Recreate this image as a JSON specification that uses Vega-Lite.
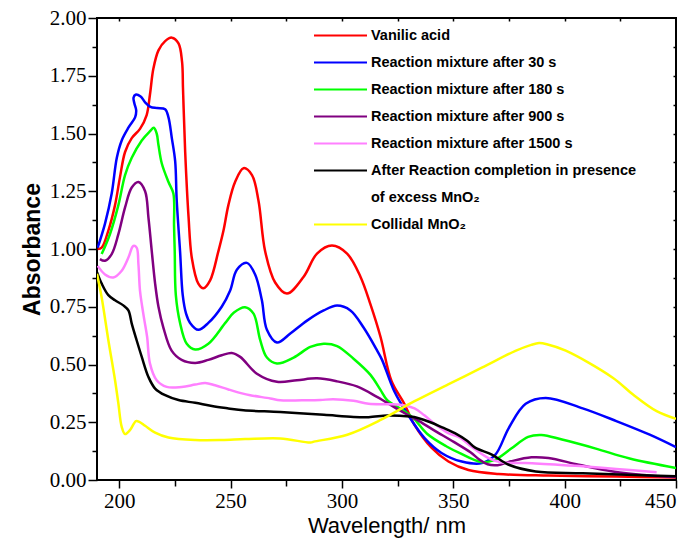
{
"$schema":"https://vega.github.io/schema/vega-lite/v6.json",
"width":579,"height":462,
"autosize":{"type":"none"},
"padding":{"left":97,"top":18,"right":16,"bottom":69},
"background":"white",
"config":{"view":{"stroke":"black","strokeWidth":2},
"axis":{"domain":false,"grid":false,"tickColor":"black","tickWidth":1.5,"labelColor":"black","titleColor":"black","labelOverlap":false,"labelFont":"Liberation Serif, DejaVu Serif, serif"}},
"data":{"values":[
{"series":"Vanilic acid","wl":190.3,"abs":1.0},{"series":"Vanilic acid","wl":192.1,"abs":1.006},{"series":"Vanilic acid","wl":195.1,"abs":1.08},{"series":"Vanilic acid","wl":198.1,"abs":1.19},{"series":"Vanilic acid","wl":200.3,"abs":1.31},{"series":"Vanilic acid","wl":202.6,"abs":1.42},{"series":"Vanilic acid","wl":205.6,"abs":1.48},{"series":"Vanilic acid","wl":209.3,"abs":1.52},{"series":"Vanilic acid","wl":212.3,"abs":1.58},{"series":"Vanilic acid","wl":213.8,"abs":1.67},{"series":"Vanilic acid","wl":215.3,"abs":1.78},{"series":"Vanilic acid","wl":217.6,"abs":1.86},{"series":"Vanilic acid","wl":220.6,"abs":1.9},{"series":"Vanilic acid","wl":223.6,"abs":1.915},{"series":"Vanilic acid","wl":226.6,"abs":1.89},{"series":"Vanilic acid","wl":228.2,"abs":1.81},{"series":"Vanilic acid","wl":228.6,"abs":1.7},{"series":"Vanilic acid","wl":228.9,"abs":1.61},{"series":"Vanilic acid","wl":229.6,"abs":1.42},{"series":"Vanilic acid","wl":231.1,"abs":1.14},{"series":"Vanilic acid","wl":232.6,"abs":0.96},{"series":"Vanilic acid","wl":235.5,"abs":0.85},{"series":"Vanilic acid","wl":237.8,"abs":0.83},{"series":"Vanilic acid","wl":240.8,"abs":0.864},{"series":"Vanilic acid","wl":244.5,"abs":0.99},{"series":"Vanilic acid","wl":246.8,"abs":1.08},{"series":"Vanilic acid","wl":249,"abs":1.19},{"series":"Vanilic acid","wl":252,"abs":1.29},{"series":"Vanilic acid","wl":255.8,"abs":1.35},{"series":"Vanilic acid","wl":259.6,"abs":1.32},{"series":"Vanilic acid","wl":262.5,"abs":1.21},{"series":"Vanilic acid","wl":265.5,"abs":0.99},{"series":"Vanilic acid","wl":270,"abs":0.855},{"series":"Vanilic acid","wl":275.3,"abs":0.807},{"series":"Vanilic acid","wl":282.8,"abs":0.88},{"series":"Vanilic acid","wl":288.8,"abs":0.98},{"series":"Vanilic acid","wl":295.5,"abs":1.015},{"series":"Vanilic acid","wl":302.3,"abs":0.98},{"series":"Vanilic acid","wl":308.3,"abs":0.88},{"series":"Vanilic acid","wl":312.8,"abs":0.76},{"series":"Vanilic acid","wl":317.3,"abs":0.62},{"series":"Vanilic acid","wl":322.2,"abs":0.43},{"series":"Vanilic acid","wl":328,"abs":0.33},{"series":"Vanilic acid","wl":332.5,"abs":0.24},{"series":"Vanilic acid","wl":340.2,"abs":0.14},{"series":"Vanilic acid","wl":347.8,"abs":0.08},{"series":"Vanilic acid","wl":356.8,"abs":0.043},{"series":"Vanilic acid","wl":370.3,"abs":0.026},{"series":"Vanilic acid","wl":392.8,"abs":0.019},{"series":"Vanilic acid","wl":423.4,"abs":0.015},{"series":"Vanilic acid","wl":450,"abs":0.011},
{"series":"Reaction mixture after 30 s","wl":190.3,"abs":1.006},{"series":"Reaction mixture after 30 s","wl":193.6,"abs":1.11},{"series":"Reaction mixture after 30 s","wl":196.6,"abs":1.24},{"series":"Reaction mixture after 30 s","wl":198.9,"abs":1.395},{"series":"Reaction mixture after 30 s","wl":201.1,"abs":1.47},{"series":"Reaction mixture after 30 s","wl":204.1,"abs":1.525},{"series":"Reaction mixture after 30 s","wl":207.1,"abs":1.57},{"series":"Reaction mixture after 30 s","wl":207.6,"abs":1.6},{"series":"Reaction mixture after 30 s","wl":206.8,"abs":1.63},{"series":"Reaction mixture after 30 s","wl":206.4,"abs":1.655},{"series":"Reaction mixture after 30 s","wl":207.3,"abs":1.668},{"series":"Reaction mixture after 30 s","wl":209.6,"abs":1.66},{"series":"Reaction mixture after 30 s","wl":211.6,"abs":1.635},{"series":"Reaction mixture after 30 s","wl":214,"abs":1.615},{"series":"Reaction mixture after 30 s","wl":217,"abs":1.61},{"series":"Reaction mixture after 30 s","wl":220.6,"abs":1.605},{"series":"Reaction mixture after 30 s","wl":222.1,"abs":1.57},{"series":"Reaction mixture after 30 s","wl":223.6,"abs":1.48},{"series":"Reaction mixture after 30 s","wl":225.1,"abs":1.38},{"series":"Reaction mixture after 30 s","wl":225.8,"abs":1.21},{"series":"Reaction mixture after 30 s","wl":227.3,"abs":0.99},{"series":"Reaction mixture after 30 s","wl":228.5,"abs":0.8},{"series":"Reaction mixture after 30 s","wl":230,"abs":0.72},{"series":"Reaction mixture after 30 s","wl":231.8,"abs":0.68},{"series":"Reaction mixture after 30 s","wl":235.5,"abs":0.65},{"series":"Reaction mixture after 30 s","wl":240,"abs":0.68},{"series":"Reaction mixture after 30 s","wl":246,"abs":0.75},{"series":"Reaction mixture after 30 s","wl":249.8,"abs":0.82},{"series":"Reaction mixture after 30 s","wl":252.8,"abs":0.91},{"series":"Reaction mixture after 30 s","wl":257.3,"abs":0.94},{"series":"Reaction mixture after 30 s","wl":261,"abs":0.89},{"series":"Reaction mixture after 30 s","wl":264,"abs":0.78},{"series":"Reaction mixture after 30 s","wl":266.3,"abs":0.65},{"series":"Reaction mixture after 30 s","wl":270.8,"abs":0.595},{"series":"Reaction mixture after 30 s","wl":276.8,"abs":0.634},{"series":"Reaction mixture after 30 s","wl":284.3,"abs":0.69},{"series":"Reaction mixture after 30 s","wl":291.8,"abs":0.734},{"series":"Reaction mixture after 30 s","wl":297.8,"abs":0.755},{"series":"Reaction mixture after 30 s","wl":303.8,"abs":0.734},{"series":"Reaction mixture after 30 s","wl":309.7,"abs":0.66},{"series":"Reaction mixture after 30 s","wl":315.8,"abs":0.56},{"series":"Reaction mixture after 30 s","wl":318,"abs":0.52},{"series":"Reaction mixture after 30 s","wl":323.5,"abs":0.384},{"series":"Reaction mixture after 30 s","wl":329.6,"abs":0.283},{"series":"Reaction mixture after 30 s","wl":337.2,"abs":0.18},{"series":"Reaction mixture after 30 s","wl":344.7,"abs":0.117},{"series":"Reaction mixture after 30 s","wl":353.8,"abs":0.08},{"series":"Reaction mixture after 30 s","wl":362.8,"abs":0.073},{"series":"Reaction mixture after 30 s","wl":368.9,"abs":0.11},{"series":"Reaction mixture after 30 s","wl":374.9,"abs":0.225},{"series":"Reaction mixture after 30 s","wl":382.5,"abs":0.33},{"series":"Reaction mixture after 30 s","wl":391.5,"abs":0.355},{"series":"Reaction mixture after 30 s","wl":408.1,"abs":0.31},{"series":"Reaction mixture after 30 s","wl":423.2,"abs":0.255},{"series":"Reaction mixture after 30 s","wl":438.2,"abs":0.196},{"series":"Reaction mixture after 30 s","wl":450,"abs":0.142},
{"series":"Reaction mixture after 180 s","wl":192.1,"abs":0.978},{"series":"Reaction mixture after 180 s","wl":195.8,"abs":1.064},{"series":"Reaction mixture after 180 s","wl":199.6,"abs":1.19},{"series":"Reaction mixture after 180 s","wl":202.6,"abs":1.32},{"series":"Reaction mixture after 180 s","wl":205.6,"abs":1.395},{"series":"Reaction mixture after 180 s","wl":210.1,"abs":1.47},{"series":"Reaction mixture after 180 s","wl":213.8,"abs":1.51},{"series":"Reaction mixture after 180 s","wl":215.5,"abs":1.525},{"series":"Reaction mixture after 180 s","wl":216.8,"abs":1.5},{"series":"Reaction mixture after 180 s","wl":217.6,"abs":1.45},{"series":"Reaction mixture after 180 s","wl":219.1,"abs":1.37},{"series":"Reaction mixture after 180 s","wl":222.1,"abs":1.29},{"series":"Reaction mixture after 180 s","wl":224.3,"abs":1.24},{"series":"Reaction mixture after 180 s","wl":224.6,"abs":1.1},{"series":"Reaction mixture after 180 s","wl":224.9,"abs":0.99},{"series":"Reaction mixture after 180 s","wl":225.4,"abs":0.8},{"series":"Reaction mixture after 180 s","wl":227.3,"abs":0.68},{"series":"Reaction mixture after 180 s","wl":230.3,"abs":0.59},{"series":"Reaction mixture after 180 s","wl":234.1,"abs":0.565},{"series":"Reaction mixture after 180 s","wl":240,"abs":0.59},{"series":"Reaction mixture after 180 s","wl":247.6,"abs":0.68},{"series":"Reaction mixture after 180 s","wl":251.5,"abs":0.725},{"series":"Reaction mixture after 180 s","wl":256.5,"abs":0.748},{"series":"Reaction mixture after 180 s","wl":260.3,"abs":0.72},{"series":"Reaction mixture after 180 s","wl":263.3,"abs":0.605},{"series":"Reaction mixture after 180 s","wl":266.3,"abs":0.53},{"series":"Reaction mixture after 180 s","wl":270.8,"abs":0.504},{"series":"Reaction mixture after 180 s","wl":278.3,"abs":0.53},{"series":"Reaction mixture after 180 s","wl":285.8,"abs":0.576},{"series":"Reaction mixture after 180 s","wl":291.8,"abs":0.59},{"series":"Reaction mixture after 180 s","wl":297.8,"abs":0.58},{"series":"Reaction mixture after 180 s","wl":305.2,"abs":0.525},{"series":"Reaction mixture after 180 s","wl":312.8,"abs":0.455},{"series":"Reaction mixture after 180 s","wl":317.3,"abs":0.39},{"series":"Reaction mixture after 180 s","wl":320.3,"abs":0.346},{"series":"Reaction mixture after 180 s","wl":327.7,"abs":0.3},{"series":"Reaction mixture after 180 s","wl":332.2,"abs":0.267},{"series":"Reaction mixture after 180 s","wl":338.2,"abs":0.2},{"series":"Reaction mixture after 180 s","wl":347.2,"abs":0.144},{"series":"Reaction mixture after 180 s","wl":353.2,"abs":0.115},{"series":"Reaction mixture after 180 s","wl":362.4,"abs":0.078},{"series":"Reaction mixture after 180 s","wl":368.4,"abs":0.086},{"series":"Reaction mixture after 180 s","wl":376,"abs":0.136},{"series":"Reaction mixture after 180 s","wl":383.6,"abs":0.187},{"series":"Reaction mixture after 180 s","wl":389.6,"abs":0.195},{"series":"Reaction mixture after 180 s","wl":398.8,"abs":0.175},{"series":"Reaction mixture after 180 s","wl":414,"abs":0.136},{"series":"Reaction mixture after 180 s","wl":429.2,"abs":0.093},{"series":"Reaction mixture after 180 s","wl":450,"abs":0.052},
{"series":"Reaction mixture after 900 s","wl":191.3,"abs":0.956},{"series":"Reaction mixture after 900 s","wl":193.6,"abs":0.949},{"series":"Reaction mixture after 900 s","wl":196.6,"abs":0.978},{"series":"Reaction mixture after 900 s","wl":199.6,"abs":1.064},{"series":"Reaction mixture after 900 s","wl":202.6,"abs":1.18},{"series":"Reaction mixture after 900 s","wl":205.6,"abs":1.266},{"series":"Reaction mixture after 900 s","wl":208.6,"abs":1.29},{"series":"Reaction mixture after 900 s","wl":211.6,"abs":1.25},{"series":"Reaction mixture after 900 s","wl":213.1,"abs":1.136},{"series":"Reaction mixture after 900 s","wl":214.6,"abs":0.99},{"series":"Reaction mixture after 900 s","wl":216.1,"abs":0.85},{"series":"Reaction mixture after 900 s","wl":217.6,"abs":0.75},{"series":"Reaction mixture after 900 s","wl":219.8,"abs":0.66},{"series":"Reaction mixture after 900 s","wl":223.5,"abs":0.56},{"series":"Reaction mixture after 900 s","wl":228,"abs":0.52},{"series":"Reaction mixture after 900 s","wl":234.1,"abs":0.507},{"series":"Reaction mixture after 900 s","wl":240,"abs":0.52},{"series":"Reaction mixture after 900 s","wl":246,"abs":0.54},{"series":"Reaction mixture after 900 s","wl":250.5,"abs":0.55},{"series":"Reaction mixture after 900 s","wl":254.3,"abs":0.533},{"series":"Reaction mixture after 900 s","wl":261.8,"abs":0.46},{"series":"Reaction mixture after 900 s","wl":270.8,"abs":0.425},{"series":"Reaction mixture after 900 s","wl":279.8,"abs":0.432},{"series":"Reaction mixture after 900 s","wl":288.8,"abs":0.44},{"series":"Reaction mixture after 900 s","wl":297.8,"abs":0.427},{"series":"Reaction mixture after 900 s","wl":306.7,"abs":0.405},{"series":"Reaction mixture after 900 s","wl":315.7,"abs":0.36},{"series":"Reaction mixture after 900 s","wl":326.2,"abs":0.3},{"series":"Reaction mixture after 900 s","wl":333.7,"abs":0.26},{"series":"Reaction mixture after 900 s","wl":341.2,"abs":0.216},{"series":"Reaction mixture after 900 s","wl":350.2,"abs":0.165},{"series":"Reaction mixture after 900 s","wl":357.7,"abs":0.12},{"series":"Reaction mixture after 900 s","wl":361.5,"abs":0.09},{"series":"Reaction mixture after 900 s","wl":365.4,"abs":0.068},{"series":"Reaction mixture after 900 s","wl":369.9,"abs":0.064},{"series":"Reaction mixture after 900 s","wl":376,"abs":0.081},{"series":"Reaction mixture after 900 s","wl":385.1,"abs":0.098},{"series":"Reaction mixture after 900 s","wl":392.7,"abs":0.095},{"series":"Reaction mixture after 900 s","wl":406.3,"abs":0.066},{"series":"Reaction mixture after 900 s","wl":421.6,"abs":0.037},{"series":"Reaction mixture after 900 s","wl":438.2,"abs":0.02},{"series":"Reaction mixture after 900 s","wl":450,"abs":0.013},
{"series":"Reaction mixture after 1500 s","wl":190.3,"abs":0.927},{"series":"Reaction mixture after 1500 s","wl":193.6,"abs":0.89},{"series":"Reaction mixture after 1500 s","wl":197.3,"abs":0.877},{"series":"Reaction mixture after 1500 s","wl":201.1,"abs":0.906},{"series":"Reaction mixture after 1500 s","wl":204.1,"abs":0.963},{"series":"Reaction mixture after 1500 s","wl":206.3,"abs":1.013},{"series":"Reaction mixture after 1500 s","wl":207.8,"abs":1.006},{"series":"Reaction mixture after 1500 s","wl":208.6,"abs":0.934},{"series":"Reaction mixture after 1500 s","wl":209.3,"abs":0.82},{"series":"Reaction mixture after 1500 s","wl":210.3,"abs":0.75},{"series":"Reaction mixture after 1500 s","wl":211.3,"abs":0.69},{"series":"Reaction mixture after 1500 s","wl":212.5,"abs":0.62},{"series":"Reaction mixture after 1500 s","wl":213.8,"abs":0.504},{"series":"Reaction mixture after 1500 s","wl":216.8,"abs":0.432},{"series":"Reaction mixture after 1500 s","wl":221.3,"abs":0.403},{"series":"Reaction mixture after 1500 s","wl":228,"abs":0.403},{"series":"Reaction mixture after 1500 s","wl":234.1,"abs":0.413},{"series":"Reaction mixture after 1500 s","wl":238.6,"abs":0.42},{"series":"Reaction mixture after 1500 s","wl":243,"abs":0.41},{"series":"Reaction mixture after 1500 s","wl":249,"abs":0.392},{"series":"Reaction mixture after 1500 s","wl":255.1,"abs":0.375},{"series":"Reaction mixture after 1500 s","wl":258.8,"abs":0.367},{"series":"Reaction mixture after 1500 s","wl":267.8,"abs":0.353},{"series":"Reaction mixture after 1500 s","wl":272.3,"abs":0.345},{"series":"Reaction mixture after 1500 s","wl":282,"abs":0.345},{"series":"Reaction mixture after 1500 s","wl":290.3,"abs":0.346},{"series":"Reaction mixture after 1500 s","wl":296,"abs":0.35},{"series":"Reaction mixture after 1500 s","wl":305.2,"abs":0.343},{"series":"Reaction mixture after 1500 s","wl":312,"abs":0.33},{"series":"Reaction mixture after 1500 s","wl":320.3,"abs":0.328},{"series":"Reaction mixture after 1500 s","wl":327,"abs":0.325},{"series":"Reaction mixture after 1500 s","wl":332.6,"abs":0.31},{"series":"Reaction mixture after 1500 s","wl":337,"abs":0.28},{"series":"Reaction mixture after 1500 s","wl":342.7,"abs":0.235},{"series":"Reaction mixture after 1500 s","wl":347.7,"abs":0.203},{"series":"Reaction mixture after 1500 s","wl":353.2,"abs":0.182},{"series":"Reaction mixture after 1500 s","wl":357,"abs":0.153},{"series":"Reaction mixture after 1500 s","wl":365.8,"abs":0.095},{"series":"Reaction mixture after 1500 s","wl":371.9,"abs":0.076},{"series":"Reaction mixture after 1500 s","wl":385.4,"abs":0.073},{"series":"Reaction mixture after 1500 s","wl":408.1,"abs":0.059},{"series":"Reaction mixture after 1500 s","wl":423.2,"abs":0.048},{"series":"Reaction mixture after 1500 s","wl":441.3,"abs":0.034},
{"series":"After Reaction completion in presence","wl":190,"abs":0.9},{"series":"After Reaction completion in presence","wl":192.1,"abs":0.85},{"series":"After Reaction completion in presence","wl":195.1,"abs":0.8},{"series":"After Reaction completion in presence","wl":198.1,"abs":0.778},{"series":"After Reaction completion in presence","wl":201.8,"abs":0.756},{"series":"After Reaction completion in presence","wl":204.1,"abs":0.734},{"series":"After Reaction completion in presence","wl":205.6,"abs":0.677},{"series":"After Reaction completion in presence","wl":207.8,"abs":0.605},{"series":"After Reaction completion in presence","wl":210.1,"abs":0.533},{"series":"After Reaction completion in presence","wl":213.1,"abs":0.446},{"series":"After Reaction completion in presence","wl":216.1,"abs":0.396},{"series":"After Reaction completion in presence","wl":220.6,"abs":0.367},{"series":"After Reaction completion in presence","wl":226.6,"abs":0.346},{"series":"After Reaction completion in presence","wl":234.1,"abs":0.334},{"series":"After Reaction completion in presence","wl":241.6,"abs":0.32},{"series":"After Reaction completion in presence","wl":249,"abs":0.31},{"series":"After Reaction completion in presence","wl":255.8,"abs":0.302},{"series":"After Reaction completion in presence","wl":272.3,"abs":0.294},{"series":"After Reaction completion in presence","wl":291.9,"abs":0.282},{"series":"After Reaction completion in presence","wl":305.2,"abs":0.273},{"series":"After Reaction completion in presence","wl":312,"abs":0.272},{"series":"After Reaction completion in presence","wl":320.3,"abs":0.279},{"series":"After Reaction completion in presence","wl":326,"abs":0.278},{"series":"After Reaction completion in presence","wl":332.4,"abs":0.273},{"series":"After Reaction completion in presence","wl":339.7,"abs":0.25},{"series":"After Reaction completion in presence","wl":345,"abs":0.228},{"series":"After Reaction completion in presence","wl":350.7,"abs":0.203},{"series":"After Reaction completion in presence","wl":356.2,"abs":0.17},{"series":"After Reaction completion in presence","wl":359.8,"abs":0.14},{"series":"After Reaction completion in presence","wl":367.3,"abs":0.11},{"series":"After Reaction completion in presence","wl":374.9,"abs":0.066},{"series":"After Reaction completion in presence","wl":387,"abs":0.037},{"series":"After Reaction completion in presence","wl":408.1,"abs":0.029},{"series":"After Reaction completion in presence","wl":438.2,"abs":0.019},{"series":"After Reaction completion in presence","wl":450,"abs":0.016},
{"series":"Collidal MnO₂","wl":190,"abs":0.893},{"series":"Collidal MnO₂","wl":192.1,"abs":0.79},{"series":"Collidal MnO₂","wl":195.1,"abs":0.605},{"series":"Collidal MnO₂","wl":198.1,"abs":0.432},{"series":"Collidal MnO₂","wl":199.6,"abs":0.331},{"series":"Collidal MnO₂","wl":201.1,"abs":0.23},{"series":"Collidal MnO₂","wl":202.6,"abs":0.199},{"series":"Collidal MnO₂","wl":204.8,"abs":0.216},{"series":"Collidal MnO₂","wl":207.5,"abs":0.255},{"series":"Collidal MnO₂","wl":209,"abs":0.252},{"series":"Collidal MnO₂","wl":211.6,"abs":0.235},{"series":"Collidal MnO₂","wl":216.1,"abs":0.205},{"series":"Collidal MnO₂","wl":222.1,"abs":0.184},{"series":"Collidal MnO₂","wl":234.1,"abs":0.173},{"series":"Collidal MnO₂","wl":246,"abs":0.173},{"series":"Collidal MnO₂","wl":256.5,"abs":0.177},{"series":"Collidal MnO₂","wl":272.3,"abs":0.18},{"series":"Collidal MnO₂","wl":285.9,"abs":0.162},{"series":"Collidal MnO₂","wl":287.4,"abs":0.166},{"series":"Collidal MnO₂","wl":302.4,"abs":0.196},{"series":"Collidal MnO₂","wl":317.6,"abs":0.261},{"series":"Collidal MnO₂","wl":332.6,"abs":0.341},{"series":"Collidal MnO₂","wl":347.7,"abs":0.414},{"series":"Collidal MnO₂","wl":362.8,"abs":0.486},{"series":"Collidal MnO₂","wl":377.9,"abs":0.559},{"series":"Collidal MnO₂","wl":385,"abs":0.585},{"series":"Collidal MnO₂","wl":388.5,"abs":0.593},{"series":"Collidal MnO₂","wl":392,"abs":0.588},{"series":"Collidal MnO₂","wl":400.5,"abs":0.56},{"series":"Collidal MnO₂","wl":421.6,"abs":0.443},{"series":"Collidal MnO₂","wl":430.7,"abs":0.37},{"series":"Collidal MnO₂","wl":441.3,"abs":0.298},{"series":"Collidal MnO₂","wl":450,"abs":0.265}
]},
"layer":[
{"mark":{"type":"line","strokeWidth":2.5,"interpolate":"catmull-rom","clip":true},
 "encoding":{
  "x":{"field":"wl","type":"quantitative","scale":{"domain":[190,450],"nice":false,"zero":false},
   "axis":{"orient":"bottom","values":[200,250,300,350,400,450],"title":"Wavelength/ nm","titleFont":"Liberation Sans","titleFontSize":22,"titleFontWeight":"normal","titlePadding":4,"labelFont":"Liberation Serif, DejaVu Serif, serif","labelFontSize":21,"labelPadding":2,"tickSize":8}},
  "y":{"field":"abs","type":"quantitative","scale":{"domain":[0,2],"nice":false,"zero":false},
   "axis":{"orient":"left","values":[0,0.25,0.5,0.75,1,1.25,1.5,1.75,2],"format":".2f","title":"Absorbance","titleFont":"Liberation Sans","titleFontSize":23,"titleFontWeight":"bold","titlePadding":5,"labelFont":"Liberation Serif, DejaVu Serif, serif","labelFontSize":21,"labelPadding":2,"tickSize":9}},
  "color":{"field":"series","type":"nominal",
   "scale":{"domain":["Vanilic acid","Reaction mixture after 30 s","Reaction mixture after 180 s","Reaction mixture after 900 s","Reaction mixture after 1500 s","After Reaction completion in presence","of excess MnO₂","Collidal MnO₂"],
            "range":["#ff0000","#0000ff","#00ff00","#800080","#ff80ff","#000000","transparent","#ffff00"]},
   "legend":{"orient":"none","legendX":216,"legendY":4,"title":null,"symbolType":"stroke","symbolSize":2809,"symbolStrokeWidth":2,"labelFont":"Liberation Sans","labelFontWeight":"bold","labelFontSize":14.5,"labelColor":"black","labelLimit":400,"clipHeight":27,"rowPadding":0,"padding":0,"labelOffset":3}},
  "order":{"value":null}
 }},
{"mark":{"type":"line","opacity":0},
 "encoding":{
  "x":{"field":"wl","type":"quantitative","axis":{"orient":"bottom","values":[225,275,325,375,425],"labels":false,"title":null,"tickSize":6}},
  "y":{"field":"abs","type":"quantitative","axis":{"orient":"left","values":[0.125,0.375,0.625,0.875,1.125,1.375,1.625,1.875],"labels":false,"title":null,"tickSize":5}},
  "detail":{"field":"series"}
 }},
{"mark":{"type":"line","opacity":0},
 "encoding":{
  "x":{"field":"wl","type":"quantitative","axis":{"orient":"top","offset":-3,"values":[200,225,250,275,300,325,350,375,400,425],"labels":false,"title":null,"tickSize":3}},
  "y":{"field":"abs","type":"quantitative","axis":{"orient":"right","offset":-3,"values":[0.125,0.25,0.375,0.5,0.625,0.75,0.875,1,1.125,1.25,1.375,1.5,1.625,1.75,1.875],"labels":false,"title":null,"tickSize":3}},
  "detail":{"field":"series"}
 }}
],
"resolve":{"axis":{"x":"independent","y":"independent"}}
}
